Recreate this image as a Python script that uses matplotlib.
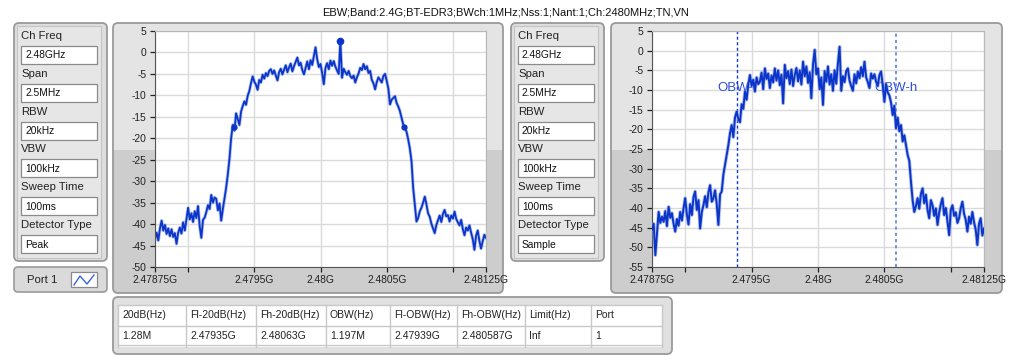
import numpy as np
import matplotlib
matplotlib.use('Agg')
import matplotlib.pyplot as plt
from matplotlib.patches import FancyBboxPatch, Rectangle
from matplotlib.lines import Line2D

W, H = 1025, 356
plt.rcParams['font.family'] = ['Liberation Sans', 'DejaVu Sans']

title = 'EBW;Band:2.4G;BT-EDR3;BWch:1MHz;Nss:1;Nant:1;Ch:2480MHz;TN,VN'

# sweep 2.47875G .. 2.48125G, 201 points
f_start, f_stop = 2.47875e9, 2.48125e9
freq = np.linspace(f_start, f_stop, 201)

# peak detector trace (dB)
peak_db = [-43.5, -42.0, -43.8, -41.0, -39.2, -41.5, -40.2, -42.3, -41.0, -42.8,
           -41.2, -43.0, -42.1, -44.6, -42.0, -40.8, -42.2, -39.6, -41.5, -38.8,
           -36.2, -38.9, -37.5, -39.5, -37.0, -38.6, -35.8, -40.5, -43.2, -39.0,
           -38.5, -37.2, -35.6, -36.5, -33.2, -35.0, -33.8, -34.1, -36.8, -35.2,
           -39.2, -36.5, -34.0, -31.5, -28.4, -24.8, -20.0, -16.9, -18.2, -14.2,
           -15.5, -16.9, -13.8, -12.5, -11.4, -12.2, -10.1, -9.0, -7.2, -5.6,
           -6.8, -7.5, -8.7, -6.4, -7.0, -5.2, -6.1, -4.8, -5.5, -4.3,
           -3.9, -5.0, -4.2, -5.4, -6.5, -4.6, -3.8, -5.1, -4.0, -3.0,
           -4.6, -3.5, -2.6, -4.4, -3.2, -2.2, -1.2, -3.0, -2.4, -4.1,
           -5.1, -3.6, -2.1, -3.9, -1.8, -2.9, -0.8, 1.2, -1.6, -3.4,
           -2.7, -4.8, -7.4, -3.6, -2.5, -3.9, -1.9, -3.1, -2.0, -3.3,
           -4.2, -5.0, 2.7, -5.9, -3.8, -4.6, -5.2, -4.3, -5.5, -6.0,
           -5.4, -7.0, -5.8, -4.9, -3.6, -4.1, -2.7, -3.9, -3.2, -4.8,
           -4.3, -6.4, -7.2, -8.6, -6.9, -5.8, -6.4, -7.0, -5.5, -5.0,
           -6.6, -8.4, -12.1, -11.0, -10.6, -10.2, -11.8, -12.6, -13.7, -15.2,
           -16.8, -17.6, -18.5, -20.3, -22.4, -25.4, -31.6, -35.5, -39.4, -38.6,
           -37.0, -36.2, -35.0, -33.6, -35.4, -37.5, -38.3, -39.9, -41.0, -42.1,
           -40.2, -39.1, -38.0, -39.5, -37.6, -36.7, -38.2, -37.9, -39.4, -38.0,
           -38.7, -37.1, -38.8, -39.6, -40.3, -39.0, -41.2, -42.6, -40.8, -41.5,
           -40.3, -42.0, -43.5, -46.0, -42.7, -41.5, -43.9, -45.7, -44.0, -42.5,
           -43.2]

# sample detector trace (dB)
sample_db = [-45.5, -44.0, -52.0, -46.5, -41.0, -43.8, -42.2, -43.5, -40.8, -44.6,
             -39.7, -42.5, -41.3, -44.0, -46.0, -42.8, -44.5, -41.0, -43.2, -40.1,
             -37.5, -41.6, -44.2, -39.0, -41.8, -37.2, -35.8, -40.5, -38.0, -45.2,
             -41.0, -39.3, -37.0, -39.8, -36.0, -34.2, -38.4, -37.5, -35.5, -39.0,
             -44.3, -36.5, -35.8, -31.5, -29.0, -26.5, -24.0, -21.0, -18.9, -22.0,
             -17.0, -15.5, -17.4, -18.2, -13.6, -14.8, -10.4, -12.5, -8.6, -6.2,
             -9.0, -7.4, -10.4, -6.8, -8.5, -7.9, -5.6, -9.8, -4.5, -7.2,
             -5.8, -9.5, -6.3, -8.1, -4.5, -7.6, -5.0, -8.8, -6.1, -13.4,
             -3.6, -7.0, -5.2, -8.5, -4.8, -9.0, -6.2, -4.4, -7.8, -5.0,
             -8.6, -2.8, -6.5, -4.0, -8.2, -5.5, -12.1, -3.5, 0.2, -6.0,
             -4.5, -9.8, -6.8, -13.8, -5.2, -7.9, -4.0, -8.6, -6.0, -10.2,
             -5.0, -8.4, -3.2, 1.0, -10.2, -6.5, -8.0, -5.2, -4.5, -7.6,
             -9.0, -10.2, -6.0, -8.3, -5.3, -7.0, -4.2, -6.5, -2.8, -6.8,
             -8.0, -9.5, -5.8, -7.1, -6.0, -7.9, -9.0, -6.2, -5.3, -8.8,
             -13.0, -8.5, -10.6, -11.4, -13.2, -16.4, -14.0, -19.7, -17.0, -20.5,
             -18.9, -23.1, -21.5, -24.0, -26.5, -28.0, -33.3, -38.0, -41.0, -39.5,
             -37.5, -40.2, -36.4, -35.0, -38.8, -36.6, -40.5, -42.6, -38.0, -39.3,
             -42.0, -40.1, -44.3, -41.2, -39.0, -37.5, -41.8, -40.0, -43.5, -46.9,
             -40.5, -39.3, -42.0, -41.1, -43.8, -42.6, -40.0, -38.4, -41.5, -43.0,
             -46.0, -42.2, -44.0, -41.0, -43.6, -45.5, -49.4, -44.0, -42.6, -47.0,
             -45.2]

setting_names = ['Ch Freq', 'Span', 'RBW', 'VBW', 'Sweep Time', 'Detector Type']
peak_settings = ['2.48GHz', '2.5MHz', '20kHz', '100kHz', '100ms', 'Peak']
sample_settings = ['2.48GHz', '2.5MHz', '20kHz', '100kHz', '100ms', 'Sample']

table_head = ['20dB(Hz)', 'Fl-20dB(Hz)', 'Fh-20dB(Hz)', 'OBW(Hz)',
              'Fl-OBW(Hz)', 'Fh-OBW(Hz)', 'Limit(Hz)', 'Port']
table_row = ['1.28M', '2.47935G', '2.48063G', '1.197M',
             '2.47939G', '2.480587G', 'Inf', '1']

fl_20db, fh_20db = 2.47935e9, 2.48063e9
fl_obw, fh_obw = 2.47939e9, 2.480587e9

xticks = [2.47875e9, 2.479e9, 2.4795e9, 2.48e9, 2.4805e9, 2.481e9, 2.48125e9]
xlabels = ['2.47875G', '', '2.4795G', '2.48G', '2.4805G', '', '2.48125G']

trace_col = '#0a35c8'
halo_col = '#7f97e6'

fig = plt.figure(figsize=(W / 100, H / 100), dpi=100)
fig.patch.set_facecolor('white')
bg = fig.add_axes([0, 0, 1, 1])
bg.set_xlim(0, W)
bg.set_ylim(H, 0)
bg.axis('off')


def panel(x0, y0, x1, y1, top='#e4e4e4', bottom='#cdcdcd', split=150, ec='#9a9a9a', r=5):
    p = FancyBboxPatch((x0, y0), x1 - x0, y1 - y0, boxstyle='round,pad=0,rounding_size=%d' % r,
                       fc=top, ec='none')
    bg.add_patch(p)
    if split is not None:
        low = Rectangle((x0, split), x1 - x0, y1 - split, fc=bottom, ec='none')
        low.set_clip_path(p)
        bg.add_patch(low)
    bg.add_patch(FancyBboxPatch((x0, y0), x1 - x0, y1 - y0, boxstyle='round,pad=0,rounding_size=%d' % r,
                                fc='none', ec=ec, lw=1.3))


def settings(x0, values):
    panel(x0, 23, x0 + 93, 261, top='#dedede', split=None)
    bg.add_patch(Rectangle((x0 + 3, 26), 84, 232, fc='#e6e6e6', ec='#c4c4c4', lw=0.8))
    for k, (name, val) in enumerate(zip(setting_names, values)):
        yl = 36 + k * 37.8
        bg.text(x0 + 7, yl, name, fontsize=8.2, color='#222222', va='center', ha='left')
        bg.add_patch(Rectangle((x0 + 7, yl + 10), 76, 18, fc='white', ec='#8a8a8a', lw=0.9))
        bg.text(x0 + 11, yl + 19.5, val, fontsize=7.4, color='#111111', va='center', ha='left')


def chart(px0, px1, y_lo, y_hi, yticks):
    ax = fig.add_axes([px0 / W, 1 - 267 / H, (px1 - px0) / W, (267 - 31) / H])
    ax.set_facecolor('white')
    ax.set_xlim(f_start, f_stop)
    ax.set_ylim(y_lo, y_hi)
    ax.set_xticks(xticks)
    ax.set_xticklabels(xlabels)
    ax.set_yticks(yticks)
    ax.set_yticklabels([str(v) for v in yticks])
    ax.grid(True, color='#dadada', lw=1)
    ax.set_axisbelow(True)
    ax.tick_params(direction='out', length=3.6, width=0.9, labelsize=7.4, colors='#222222', pad=2.5)
    for s in ['left', 'bottom']:
        ax.spines[s].set_color('#555555')
    for s in ['top', 'right']:
        ax.spines[s].set_color('#b8b8b8')
    return ax


bg.text(506, 12.5, title, fontsize=8, ha='center', va='center', color='#111111')

# left half: peak detector
settings(14, peak_settings)
panel(113, 23, 503, 293)
ax1 = chart(155, 486, -50, 5, list(range(5, -55, -5)))
ax1.plot(freq, peak_db, color=halo_col, lw=2.4, alpha=0.6)
ax1.plot(freq, peak_db, color=trace_col, lw=1.3)
pk = int(np.argmax(peak_db))
ax1.plot([freq[pk]], [peak_db[pk]], 'o', ms=4.5, color=trace_col)
ax1.plot([fl_20db, fh_20db], [peak_db[pk] - 20, peak_db[pk] - 20], 'o', ms=3.5, color=trace_col)

# port legend button
bg.add_patch(FancyBboxPatch((14, 267), 93, 25, boxstyle='round,pad=0,rounding_size=4',
                            fc='#dadada', ec='#9a9a9a', lw=1.2))
bg.text(42, 280, 'Port 1', fontsize=8.2, ha='center', va='center', color='#222222')
bg.add_patch(Rectangle((71, 272), 26, 15, fc='white', ec='#8a8a8a', lw=0.9))
bg.add_line(Line2D([74, 80, 87, 94], [285, 276, 284, 275], color='#3a62d8', lw=1))

# right half: sample detector
settings(511, sample_settings)
panel(611, 23, 1002, 293)
ax2 = chart(652, 984, -55, 5, list(range(5, -60, -5)))
ax2.axvline(fl_obw, color='#1538cc', ls=(0, (2.2, 1.8)), lw=1, zorder=2)
ax2.axvline(fh_obw, color='#7090ec', ls=(0, (1.6, 1.6)), lw=1.4, zorder=2)
ax2.text(fl_obw, -9.5, 'OBW-l', fontsize=9.5, color='#2f50d8', ha='center', va='center', zorder=1)
ax2.text(fh_obw, -9.5, 'OBW-h', fontsize=9.5, color='#2f50d8', ha='center', va='center', zorder=1)
ax2.plot(freq, sample_db, color=halo_col, lw=2.6, alpha=0.6, zorder=3)
ax2.plot(freq, sample_db, color=trace_col, lw=1.4, zorder=3)

# result table
panel(113, 297, 672, 354, top='#e0e0e0', split=None)
cols = [118, 186, 256, 326, 390, 457, 525, 591, 662]
bg.add_patch(Rectangle((118, 305), 544, 42, fc='white', ec='none'))
for yy in [305, 326, 345]:
    bg.add_line(Line2D([118, 662], [yy, yy], color='#c8c8c8', lw=1))
for xx in cols:
    bg.add_line(Line2D([xx, xx], [305, 347], color='#c8c8c8', lw=1))
for k in range(len(table_head)):
    bg.text(cols[k] + 4, 315.5, table_head[k], fontsize=7.5, va='center', ha='left', color='#222222')
    bg.text(cols[k] + 4, 336, table_row[k], fontsize=7.5, va='center', ha='left', color='#222222')

fig.savefig('out.png', dpi=100, facecolor='white')
